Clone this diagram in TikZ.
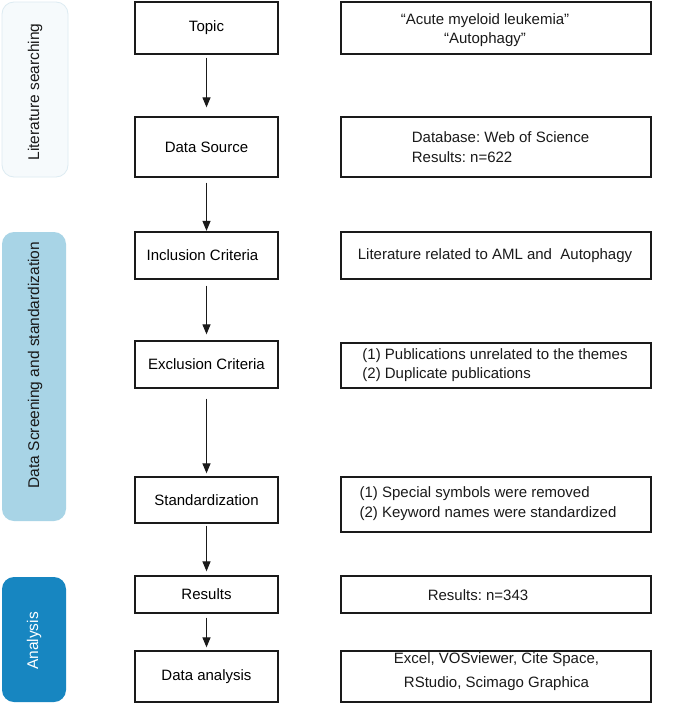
\documentclass[tikz,border=0pt]{standalone}
\usepackage{fontspec}
\setmainfont{Liberation Sans}
\usetikzlibrary{arrows.meta}
\definecolor{barA}{HTML}{F6FAFC}
\definecolor{barAline}{HTML}{DDEBF2}
\definecolor{barB}{HTML}{A8D4E6}
\definecolor{barC}{HTML}{1786C1}
\definecolor{ink}{HTML}{1A1A1A}
\frenchspacing
\begin{document}
\begin{tikzpicture}[x=1pt,y=-1pt,
  lbox/.style={draw=ink, line width=1.3pt, minimum width=143pt, inner sep=0pt,
    font=\fontsize{15}{19.5}\selectfont},
  rbox/.style={draw=ink, line width=1.3pt, minimum width=310pt, inner sep=0pt},
  txt/.style={inner sep=0pt, font=\fontsize{15}{19.5}\selectfont, text=ink},
  bar/.style={rounded corners=12pt, inner sep=0pt},
  bartxt/.style={inner sep=0pt, rotate=90, font=\fontsize{15.5}{18}\selectfont},
  arr/.style={draw=ink, line width=1.2pt, -{Triangle[length=10pt,width=8pt]}}]
\useasboundingbox (0,0) rectangle (677,704);
\fill[white] (0,0) rectangle (677,704);

% side bars
\node[bar, draw=barAline, fill=barA, line width=0.8pt, minimum width=66pt, minimum height=175pt] (s1) at (35,89.5) {};
\node[bartxt, text=ink] (s1t) at (35,92) {Literature searching};
\node[bar, fill=barB, minimum width=64pt, minimum height=289pt] (s2) at (34,376.5) {};
\node[bartxt, text=ink] (s2t) at (35,365) {Data Screening and standardization};
\node[bar, fill=barC, minimum width=64pt, minimum height=125pt] (s3) at (34,639.5) {};
\node[bartxt, text=white] (s3t) at (34,641) {Analysis};

% left column
\node[lbox, minimum height=52pt] (l1) at (206.5,28) {Topic};
\node[lbox, minimum height=60pt] (l2) at (206.5,147) {Data Source};
\node[lbox, minimum height=47pt] (l3) at (206.5,255.5) {Inclusion Criteria\hspace*{8pt}};
\node[lbox, minimum height=47pt] (l4) at (206.5,364.5) {Exclusion Criteria};
\node[lbox, minimum height=46pt] (l5) at (206.5,500) {Standardization};
\node[lbox, minimum height=37pt] (l6) at (206.5,594.5) {Results};
\node[lbox, minimum height=51pt] (l7) at (206.5,676.5) {Data analysis};

% right column
\node[rbox, minimum height=52pt] (r1) at (496,28) {};
\node[rbox, minimum height=60pt] (r2) at (496,147) {};
\node[rbox, minimum height=47pt] (r3) at (496,255.5) {};
\node[rbox, minimum height=45pt] (r4) at (496,365.5) {};
\node[rbox, minimum height=55pt] (r5) at (496,504.5) {};
\node[rbox, minimum height=37pt] (r6) at (496,594.5) {};
\node[rbox, minimum height=51pt] (r7) at (496,676.5) {};

\node[txt, align=center] (t1) at (485,30) {“Acute myeloid leukemia”\\“Autophagy”};
\node[txt, align=left] (t2) at (500.5,147) {Database: Web of Science\\Results: n=622};
\node[txt] (t3) at (495,256) {Literature related to AML and\ \ Autophagy};
\node[txt, align=left] (t4) at (495,365) {(1) Publications unrelated to the themes\\(2) Duplicate publications};
\node[txt, align=left] (t5) at (488,503.5) {(1) Special symbols were removed\\(2) Keyword names were standardized};
\node[txt] (t6) at (478,595) {Results: n=343};
\node[txt, align=center, font=\fontsize{15}{24}\selectfont] (t7) at (496.5,672) {Excel, VOSviewer, Cite Space,\\RStudio, Scimago Graphica};

% arrows
\draw[arr, shorten <=3pt, shorten >=9pt] (l1) -- (l2);
\draw[arr, shorten <=5pt, shorten >=0.5pt] (l2) -- (l3);
\draw[arr, shorten <=6pt, shorten >=6pt] (l3) -- (l4);
\draw[arr, shorten <=10pt, shorten >=3pt] (l4) -- (l5);
\draw[arr, shorten <=2pt, shorten >=4pt] (l5) -- (l6);
\draw[arr, shorten <=4pt, shorten >=3pt] (l6) -- (l7);
\end{tikzpicture}
\end{document}
